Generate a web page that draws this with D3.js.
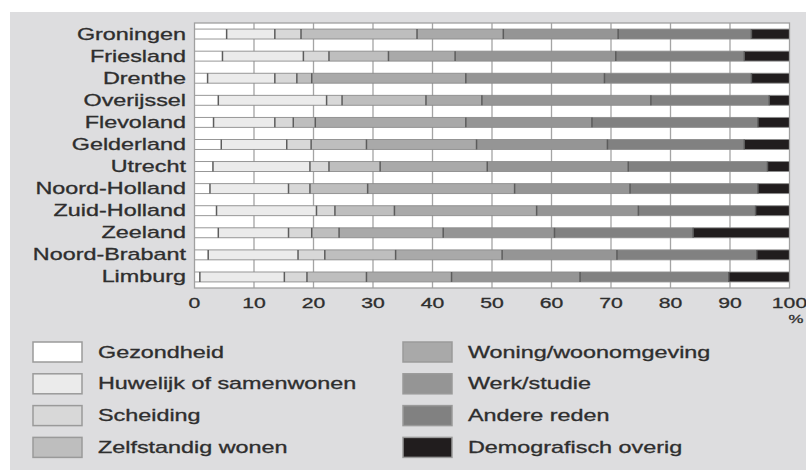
<!DOCTYPE html>
<html>
<head>
<meta charset="utf-8">
<script src="https://cdn.jsdelivr.net/npm/d3@7"></script>
<style>
  html, body { margin: 0; padding: 0; background: #ffffff; }
  svg { display: block; }
  text { font-family: "Liberation Sans", Arial, Helvetica, sans-serif; fill: #2e2e2e; stroke: #2e2e2e; stroke-width: 0.3px; }
</style>
</head>
<body>
<svg id="chart" width="806" height="470"></svg>
<script>
// ---------- DATA ----------
const provinces = ["Groningen", "Friesland", "Drenthe", "Overijssel", "Flevoland", "Gelderland",
  "Utrecht", "Noord-Holland", "Zuid-Holland", "Zeeland", "Noord-Brabant", "Limburg"];

const seriesNames = ["Gezondheid", "Huwelijk of samenwonen", "Scheiding", "Zelfstandig wonen",
  "Woning/woonomgeving", "Werk/studie", "Andere reden", "Demografisch overig"];

const gezondheid  = [5.4, 4.7, 2.2, 4.0, 3.2, 4.5, 3.1, 2.6, 3.7, 4.0, 2.3, 0.9];
const huwelijk    = [8.1, 13.6, 11.3, 18.2, 10.3, 11.0, 16.3, 13.2, 16.8, 11.8, 15.1, 14.2];
const scheiding   = [4.4, 4.3, 3.7, 2.6, 3.1, 4.1, 3.2, 3.6, 3.1, 3.9, 4.5, 3.8];
const zelfstandig = [19.5, 10.0, 2.5, 14.1, 3.7, 9.3, 8.6, 9.7, 10.0, 4.6, 11.9, 10.0];
const woning      = [14.5, 11.2, 25.9, 9.4, 25.3, 18.5, 18.0, 24.7, 23.9, 17.5, 17.9, 14.3];
const werk        = [19.3, 27.0, 23.3, 28.4, 21.2, 22.0, 23.7, 19.4, 17.1, 18.7, 19.3, 21.6];
const andere      = [22.4, 21.6, 24.7, 19.9, 27.9, 23.0, 23.4, 21.5, 19.7, 23.3, 23.5, 25.0];
const demografisch = [6.4, 7.6, 6.4, 3.4, 5.3, 7.6, 3.7, 5.3, 5.7, 16.2, 5.5, 10.2];

const xTicks = [0, 10, 20, 30, 40, 50, 60, 70, 80, 90, 100];

// ---------- STYLE ----------
const colors = ["#ffffff", "#ebebeb", "#d8d8d8", "#bebebe", "#a9a9a9", "#959595", "#818181", "#211d1e"];
const SX = 1.46; // horizontal stretch of the lettering in the reference

// build table for the stack
const seriesArrays = [gezondheid, huwelijk, scheiding, zelfstandig, woning, werk, andere, demografisch];
const table = provinces.map((p, i) => {
  const row = { province: p };
  seriesNames.forEach((s, j) => { row[s] = seriesArrays[j][i]; });
  return row;
});
const stacked = d3.stack().keys(seriesNames)(table);

const svg = d3.select("#chart");

// grey panel
svg.append("rect").attr("x", 10).attr("y", 12).attr("width", 796).attr("height", 458).attr("fill", "#dddddf");

const x = d3.scaleLinear().domain([0, 100]).range([194.5, 789.5]);
const y = d3.scaleBand().domain(provinces).range([23, 288]).paddingInner(0.55).paddingOuter(0.275);

function stretchedText(g, tx, ty, str, size, anchor) {
  return g.append("text")
    .attr("transform", `translate(${tx},${ty}) scale(${SX},1)`)
    .attr("text-anchor", anchor)
    .attr("font-size", size)
    .text(str);
}

// plot background
svg.append("rect").attr("x", x(0)).attr("y", 23).attr("width", x(100) - x(0)).attr("height", 265)
  .attr("fill", "#ffffff");

// gridlines
svg.append("g").selectAll("line").data(xTicks.slice(1, -1)).join("line")
  .attr("x1", d => x(d)).attr("x2", d => x(d))
  .attr("y1", 23).attr("y2", 288)
  .attr("stroke", "#a4a4a4").attr("stroke-width", 1.3);

// bars
const barG = svg.append("g");
stacked.forEach((layer, j) => {
  barG.append("g").selectAll("rect").data(layer).join("rect")
    .attr("x", d => x(d[0]))
    .attr("width", d => x(d[1]) - x(d[0]))
    .attr("y", d => y(d.data.province))
    .attr("height", y.bandwidth())
    .attr("fill", colors[j]);
});
// bar outlines
barG.append("g").selectAll("rect").data(provinces).join("rect")
  .attr("x", x(0)).attr("width", x(100) - x(0))
  .attr("y", d => y(d)).attr("height", y.bandwidth())
  .attr("fill", "none").attr("stroke", "#8c8c8c").attr("stroke-width", 0.9);
// dividers between segments
stacked.slice(0, -1).forEach(layer => {
  barG.append("g").selectAll("line").data(layer).join("line")
    .attr("x1", d => x(d[1])).attr("x2", d => x(d[1]))
    .attr("y1", d => y(d.data.province)).attr("y2", d => y(d.data.province) + y.bandwidth())
    .attr("stroke", "#5c5c5c").attr("stroke-width", 1.5);
});

// plot frame
svg.append("rect").attr("x", x(0)).attr("y", 23).attr("width", x(100) - x(0)).attr("height", 265)
  .attr("fill", "none").attr("stroke", "#a0a0a0").attr("stroke-width", 1.3);

// category labels
const labG = svg.append("g");
provinces.forEach(p => {
  stretchedText(labG, 186, y(p) + y.bandwidth() / 2 + 5.5, p, 16, "end");
});

// x tick labels
const tickG = svg.append("g");
xTicks.forEach(t => {
  stretchedText(tickG, x(t), 308, String(t), 14.5, "middle");
});
stretchedText(tickG, 796, 323, "%", 11.5, "middle");

// legend
const legG = svg.append("g");
seriesNames.forEach((s, j) => {
  const col = Math.floor(j / 4), row = j % 4;
  const bx = col === 0 ? 33 : 403;
  const cy = 352 + row * 31.8;
  legG.append("rect").attr("x", bx).attr("y", cy - 10).attr("width", 49).attr("height", 20)
    .attr("fill", colors[j]).attr("stroke", "#9a9a9a").attr("stroke-width", 1.5);
  stretchedText(legG, bx + 65, cy + 5.5, s, 16, "start");
});
</script>
</body>
</html>
